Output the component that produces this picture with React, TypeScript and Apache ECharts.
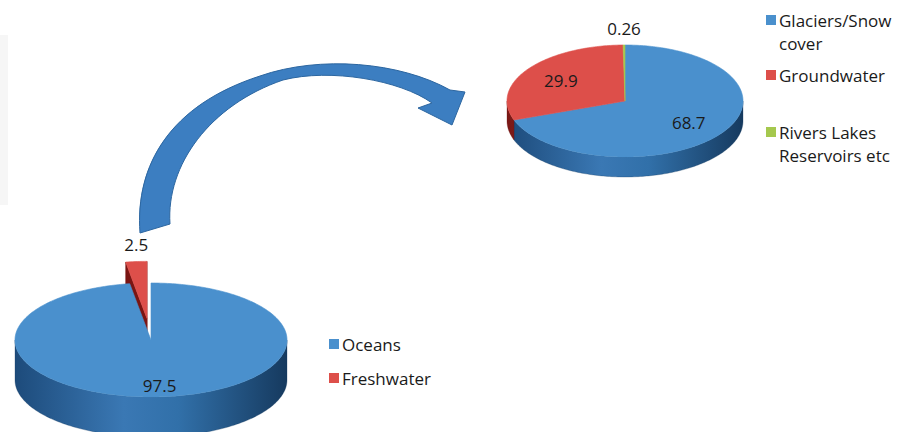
import React, { useEffect, useRef } from "react";
import * as echarts from "echarts";

// ---------- data ----------
const worldCategories = ["Oceans", "Freshwater"];
const worldValues = [97.5, 2.5];
const worldExploded = [false, true];

const freshCategories = ["Glaciers/Snow\ncover", "Groundwater", "Rivers Lakes\nReservoirs etc"];
const freshValues = [68.7, 29.9, 0.26];
const freshExploded = [false, false, false];

// ---------- styling ----------
const FONT = "'Open Sans', 'Noto Sans', sans-serif";
const TEXT = "#1a1a1a";
const BLUE = { top: "#4a90cd", face: "#2a5f94", side: ["#1d4b7b", "#3a78b4", "#3170a9", "#163a5f"] };
const RED = { top: "#dd4f4a", face: "#7a1513", side: ["#7a1816", "#a8302c", "#9a2623", "#6a1211"] };
const GREEN = { top: "#a5c84e", face: "#6d8c2a", side: ["#6f8f2a", "#8aac3c", "#7d9d33", "#5b7a20"] };
const worldColors = [BLUE, RED];
const freshColors = [BLUE, RED, GREEN];

const worldGeo = { cx: 151, cy: 340, rx: 136, ry: 57, depth: 40, explode: 22, labelF: 0.8 };
const freshGeo = { cx: 625, cy: 101, rx: 118, ry: 56, depth: 20, explode: 0, labelF: 0.66 };

const ARROW_D =
  "M140,233 C135,165 170,105 260,76 C320,55 400,62 450,90 L465,92 L452,125 L418,108 L432,103 " +
  "C400,80 330,68 283,80 C210,105 166,165 170,224 Z";
echarts.graphic.registerShape("curvedArrow", echarts.graphic.extendPath(ARROW_D, {}));

function makeRender(values: number[], colors: any[], geo: any, exploded: boolean[]) {
  const total = values.reduce((a, b) => a + b, 0);
  const starts: number[] = [];
  let acc = 0;
  values.forEach((v) => {
    starts.push(acc);
    acc += v;
  });
  return (params: any, api: any) => {
    const i = params.dataIndex;
    const v = values[i];
    const a0 = -Math.PI / 2 + (2 * Math.PI * starts[i]) / total;
    const a1 = a0 + (2 * Math.PI * v) / total;
    const am = (a0 + a1) / 2;
    let ox = 0,
      oy = 0;
    if (exploded[i]) {
      const dx = Math.cos(am) * geo.rx,
        dy = Math.sin(am) * geo.ry;
      const L = Math.hypot(dx, dy);
      ox = (dx / L) * geo.explode;
      oy = (dy / L) * geo.explode;
    }
    const cx = geo.cx + ox,
      cy = geo.cy + oy;
    const d = geo.depth;
    const pt = (t: number, dd = 0, f = 1) => [cx + f * geo.rx * Math.cos(t), cy + f * geo.ry * Math.sin(t) + dd];
    const arc = (s: number, e: number, dd: number) => {
      const n = Math.max(2, Math.ceil((e - s) / (Math.PI / 180)));
      const pts: number[][] = [];
      for (let k = 0; k <= n; k++) pts.push(pt(s + ((e - s) * k) / n, dd));
      return pts;
    };
    const c = colors[i];
    const children: any[] = [];
    if (exploded[i]) {
      for (const a of [a0, a1]) {
        const p = pt(a);
        children.push({
          type: "polygon",
          z2: 1,
          shape: { points: [[cx, cy], p, [p[0], p[1] + d], [cx, cy + d]] },
          style: { fill: c.face, stroke: c.face, lineWidth: 0.5 },
        });
      }
    }
    const s = Math.max(a0, 0),
      e = Math.min(a1, Math.PI);
    if (e > s) {
      const pts = arc(s, e, 0).concat(arc(s, e, d).reverse());
      children.push({
        type: "polygon",
        z2: 2,
        shape: { points: pts },
        style: {
          fill: {
            type: "linear",
            x: geo.cx - geo.rx,
            y: 0,
            x2: geo.cx + geo.rx,
            y2: 0,
            global: true,
            colorStops: [
              { offset: 0, color: c.side[0] },
              { offset: 0.4, color: c.side[1] },
              { offset: 0.6, color: c.side[2] },
              { offset: 1, color: c.side[3] },
            ],
          },
          stroke: c.side[3],
          lineWidth: 0.3,
        },
      });
    }
    children.push({
      type: "polygon",
      z2: 10,
      shape: { points: [[cx, cy]].concat(arc(a0, a1, 0)) },
      style: { fill: c.top, stroke: c.top, lineWidth: 0.6 },
    });
    const share = v / total;
    let lx: number, ly: number;
    if (share < 0.05) {
      const p = pt(am);
      lx = p[0];
      ly = p[1] - 17;
    } else {
      const p = pt(am, 0, geo.labelF);
      lx = p[0];
      ly = p[1];
    }
    children.push({
      type: "text",
      z2: 20,
      x: lx,
      y: ly,
      style: {
        text: String(v),
        font: `17px ${FONT}`,
        fill: TEXT,
        align: "center",
        verticalAlign: "middle",
        textAlign: "center",
        textVerticalAlign: "middle",
      },
    });
    return { type: "group", children };
  };
}

function legendGraphics(names: string[], colors: any[], x: number, ys: number[]) {
  const els: any[] = [];
  names.forEach((n, i) => {
    els.push({
      type: "rect",
      shape: { x, y: ys[i] - 5, width: 10, height: 10 },
      style: { fill: colors[i].top },
    });
    els.push({
      type: "text",
      x: x + 13,
      y: ys[i] - 11.5,
      style: {
        text: n,
        font: `17px ${FONT}`,
        fill: TEXT,
        lineHeight: 23,
        textAlign: "left",
        textVerticalAlign: "top",
        align: "left",
        verticalAlign: "top",
      },
    });
  });
  return els;
}

export default function App() {
  const ref = useRef<HTMLDivElement>(null);
  useEffect(() => {
    document.body.style.margin = "0";
    const chart = echarts.init(ref.current!, null, { renderer: "svg" });
    chart.setOption({
      animation: false,
      backgroundColor: "#ffffff",
      series: [
        {
          type: "custom",
          name: "World water",
          coordinateSystem: "none",
          data: worldValues.map((v, i) => ({ name: worldCategories[i], value: v })),
          renderItem: makeRender(worldValues, worldColors, worldGeo, worldExploded),
        },
        {
          type: "custom",
          name: "Freshwater",
          coordinateSystem: "none",
          data: freshValues.map((v, i) => ({ name: freshCategories[i], value: v })),
          renderItem: makeRender(freshValues, freshColors, freshGeo, freshExploded),
        },
      ],
      graphic: [
        { type: "rect", shape: { x: 0, y: 35, width: 8, height: 170 }, style: { fill: "#f6f6f6" }, silent: true },
        {
          type: "curvedArrow",
          x: 0,
          y: 0,
          style: {
            fill: "#3c7ec1",
            stroke: "#2c66a0",
            lineWidth: 1,
          },
        },
        ...legendGraphics(worldCategories, worldColors, 329, [344, 378]),
        ...legendGraphics(freshCategories, freshColors, 766, [20, 75, 132]),
      ],
    });
    return () => chart.dispose();
  }, []);
  return <div ref={ref} style={{ width: 900, height: 432 }} />;
}
